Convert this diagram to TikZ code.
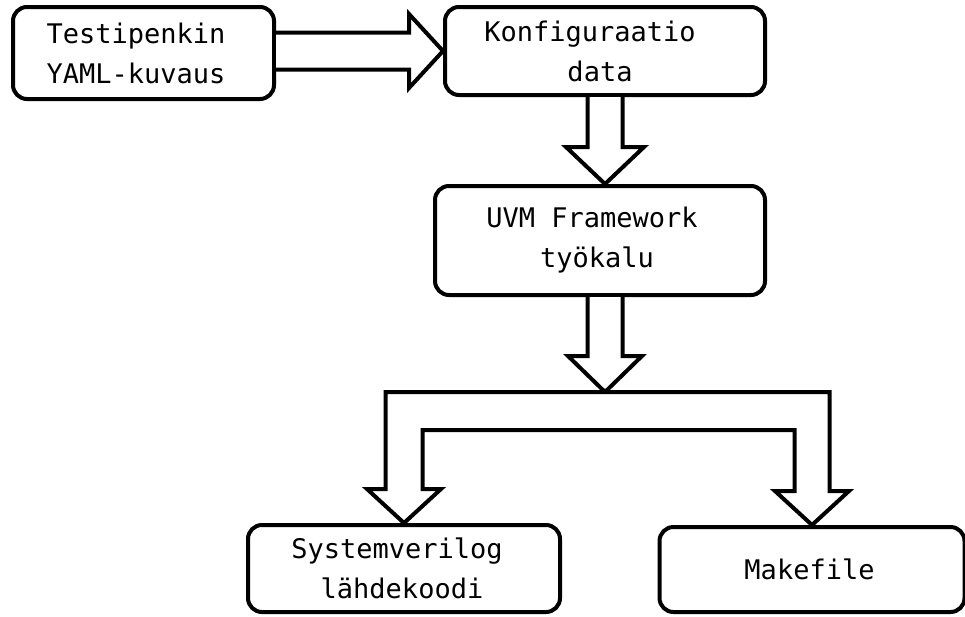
\documentclass[tikz,border=0pt]{standalone}
\usepackage{fontspec}
\setmonofont{DejaVu Sans Mono}
\usetikzlibrary{calc}
\begin{document}
\begin{tikzpicture}[x=1pt,y=-1pt,
  box/.style={draw, line width=4pt, rounded corners=14pt, fill=white, align=center,
    font=\ttfamily\fontsize{27}{40}\selectfont, inner sep=0pt},
  blk/.style={draw, fill=white, line width=4pt, line join=miter}]
\useasboundingbox (0,0) rectangle (965,616);
% boxes
\node[box, minimum width=261pt, minimum height=92pt] (b1) at (143.5,53) {Testipenkin\hspace*{15pt}\\YAML-kuvaus\hspace*{15pt}};
\node[box, minimum width=320pt, minimum height=88pt] (b2) at (605,51) {Konfiguraatio\hspace*{30pt}\\data\hspace*{10pt}};
\node[box, minimum width=330pt, minimum height=109pt] (b3) at (600,240.5) {UVM Framework\hspace*{16pt}\\työkalu\hspace*{6pt}};
\node[box, minimum width=312pt, minimum height=87pt] (b4) at (404,568.5) {Systemverilog\hspace*{14pt}\\lähdekoodi\hspace*{4pt}};
\node[box, minimum width=305pt, minimum height=85pt] (b5) at (812,569.5) {Makefile\hspace*{5pt}};
% horizontal block arrow
\coordinate (t0) at (b2.west);
\coordinate (s0) at (b1.east |- t0);
\filldraw[blk] ($(s0)+(0,-18.5)$) -- ($(t0)+(-34,-18.5)$) -- ($(t0)+(-34,-37)$) -- (t0)
  -- ($(t0)+(-34,37)$) -- ($(t0)+(-34,18.5)$) -- ($(s0)+(0,18.5)$);
% vertical block arrow 1
\coordinate (t1) at (b2.south |- b3.north);
\filldraw[blk] ($(b2.south)+(-17.5,0)$) -- ($(t1)+(-17.5,-37)$) -- ($(t1)+(-39,-37)$) -- (t1)
  -- ($(t1)+(39,-37)$) -- ($(t1)+(17.5,-37)$) -- ($(b2.south)+(17.5,0)$);
% vertical block arrow 2
\coordinate (sp) at (605,392);
\coordinate (s2) at (b3.south -| sp);
\filldraw[blk] ($(s2)+(-17.5,0)$) -- ($(sp)+(-17.5,-36)$) -- ($(sp)+(-37,-36)$) -- (sp)
  -- ($(sp)+(37,-36)$) -- ($(sp)+(17.5,-36)$) -- ($(s2)+(17.5,0)$);
% split block arrow
\coordinate (tL) at (b4.north);
\coordinate (tR) at (b5.north);
\filldraw[blk] ($(tL |- sp)+(-18.5,0)$) -- ($(tR |- sp)+(17.5,0)$)
  -- ($(tR)+(17.5,-34)$) -- ($(tR)+(37,-34)$) -- (tR) -- ($(tR)+(-37,-34)$)
  -- ($(tR)+(-17.5,-34)$) -- ($(tR |- sp)+(-17.5,38)$) -- ($(tL |- sp)+(18.5,38)$)
  -- ($(tL)+(18.5,-34)$) -- ($(tL)+(37,-34)$) -- (tL) -- ($(tL)+(-37,-34)$)
  -- ($(tL)+(-18.5,-34)$) -- cycle;
\end{tikzpicture}
\end{document}
